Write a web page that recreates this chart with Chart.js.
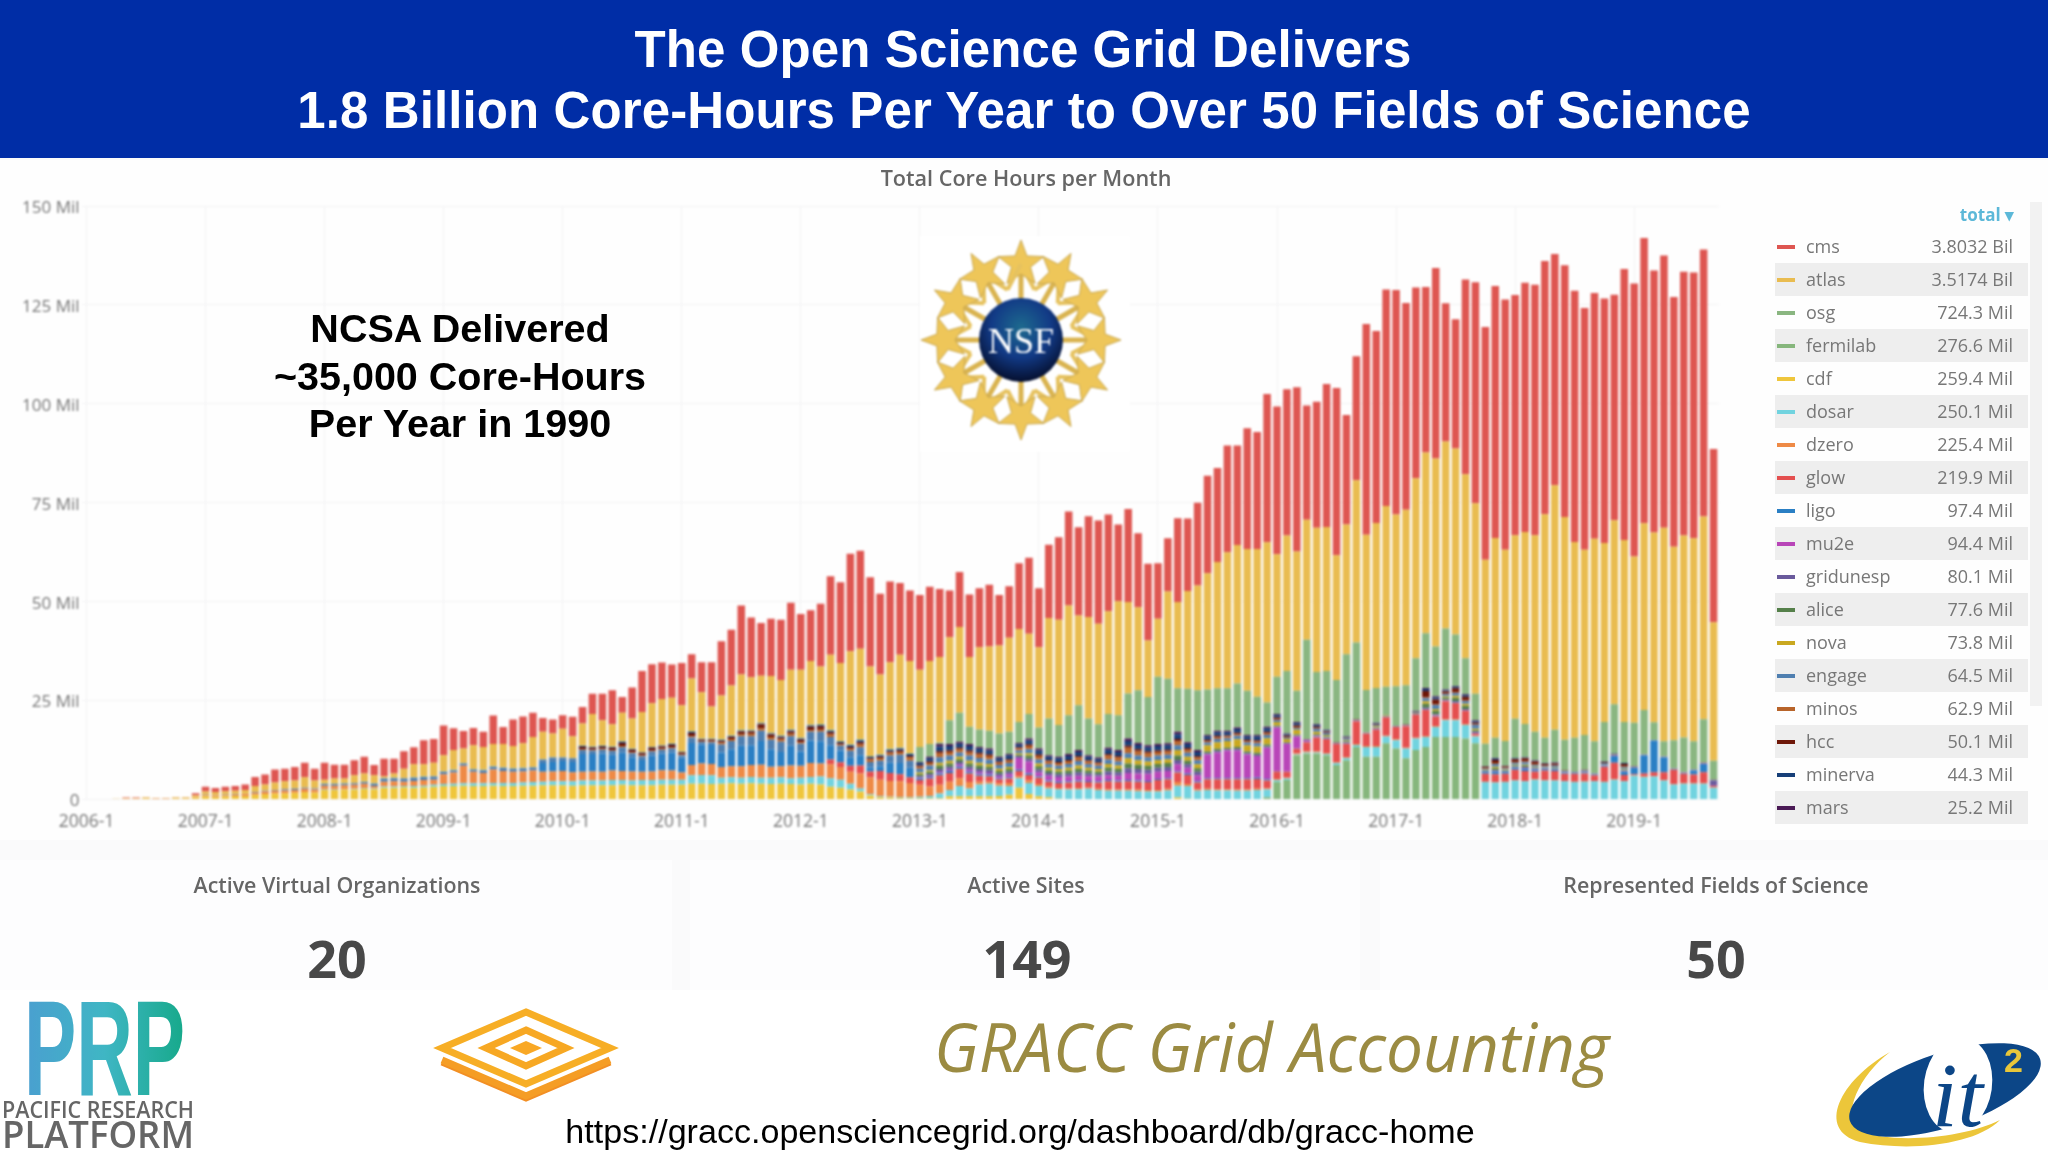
<!DOCTYPE html>
<html>
<head>
<meta charset="utf-8">
<title>The Open Science Grid Delivers</title>
<script src="https://cdn.jsdelivr.net/npm/chart.js@4"></script>
<style>
html, body { margin: 0; padding: 0; background: #fff; }
#page { position: relative; width: 2048px; height: 1152px; overflow: hidden; background: #fff; font-family: "Open Sans", sans-serif; }
.abs { position: absolute; white-space: nowrap; }
.ctr { transform: translate(-50%, -50%); }
#header { position: absolute; left: 0; top: 0; width: 2048px; height: 158px; background: #002da6; }
.head { color: #fff; font: bold 51px "Liberation Sans", Arial, sans-serif; letter-spacing: 0.1px; }
.ncsa { font: bold 39.5px "Liberation Sans", Arial, sans-serif; color: #000; }
#dash { position: absolute; left: 0; top: 158px; width: 2048px; height: 832px; background: #fafafb; filter: blur(0.6px); }
#chartBox { position: absolute; left: 0; top: 160px; width: 1740px; height: 680px; }
.panel { position: absolute; top: 860px; height: 130px; background: #fdfdfe; }
.panelLabel { color: #666; font-weight: 600; font-size: 21.4px; }
.panelValue { color: #484848; font-weight: 700; font-size: 52px; }
.row { position: absolute; left: 1775px; width: 253px; height: 33px; line-height: 33px; font-size: 18px; color: #777; }
.row.alt { background: #eeeeee; }
.swatch { position: absolute; left: 2px; top: 15px; width: 18px; height: 4px; }
.rname { position: absolute; left: 31px; top: 0; }
.rval { position: absolute; right: 15px; top: 0; }
</style>
</head>
<body>
<div id="page">
  <div id="dash">
    <div style="position:absolute;left:0;top:2px;width:2048px;height:680px;background:#fefefe"></div>
  </div>
  <div id="header"></div>
  <div class="abs ctr head" style="left:1023px;top:49px">The Open Science Grid Delivers</div>
  <div class="abs ctr head" style="left:1024px;top:110px">1.8 Billion Core-Hours Per Year to Over 50 Fields of Science</div>

  <div class="panel" style="left:0;width:672px"></div>
  <div class="panel" style="left:690px;width:670px"></div>
  <div class="panel" style="left:1380px;width:668px"></div>

  <div id="chartBox" style="filter:blur(0.8px)"><canvas id="coreHours" width="1740" height="680"></canvas></div>
  <div class="abs ctr" style="left:1026px;top:177px;color:#666;font-weight:600;font-size:21.6px;filter:blur(0.6px)">Total Core Hours per Month</div>

  <div id="legendBox" style="filter:blur(0.6px)"></div>

  <div class="abs ctr ncsa" style="left:460px;top:328px">NCSA Delivered</div>
  <div class="abs ctr ncsa" style="left:460px;top:376px">~35,000 Core-Hours</div>
  <div class="abs ctr ncsa" style="left:460px;top:423px">Per Year in 1990</div>

  <svg id="nsf" class="abs" style="left:920px;top:236px;filter:blur(1px)" width="210" height="216" viewBox="0 0 210 216"></svg>

  <div class="abs ctr panelLabel" style="left:337px;top:884px;filter:blur(0.6px)">Active Virtual Organizations</div>
  <div class="abs ctr panelValue" style="left:337px;top:957px;filter:blur(0.6px)">20</div>
  <div class="abs ctr panelLabel" style="left:1026px;top:884px;filter:blur(0.6px)">Active Sites</div>
  <div class="abs ctr panelValue" style="left:1027px;top:957px;filter:blur(0.6px)">149</div>
  <div class="abs ctr panelLabel" style="left:1716px;top:884px;filter:blur(0.6px)">Represented Fields of Science</div>
  <div class="abs ctr panelValue" style="left:1716px;top:957px;filter:blur(0.6px)">50</div>

  <svg class="abs" style="left:0;top:990px;filter:blur(0.5px)" width="2048" height="162" viewBox="0 990 2048 162">
    <defs>
      <linearGradient id="prpFill" x1="0" x2="1" y1="0" y2="0">
        <stop offset="0" stop-color="#4a9fd0"/><stop offset="0.5" stop-color="#3fb6c4"/><stop offset="1" stop-color="#16a98a"/>
      </linearGradient>
    </defs>
    <text x="24" y="1095" font-family="Liberation Sans" font-weight="bold" font-size="136" textLength="161" lengthAdjust="spacingAndGlyphs" fill="url(#prpFill)">PRP</text>
    <text x="2" y="1118" font-family="Open Sans" font-weight="600" font-size="23" textLength="192" lengthAdjust="spacingAndGlyphs" fill="#666">PACIFIC RESEARCH</text>
    <text x="2" y="1148" font-family="Open Sans" font-weight="600" font-size="38" textLength="192" lengthAdjust="spacingAndGlyphs" fill="#666">PLATFORM</text>

    <g fill="none" stroke-width="7">
      <polyline points="442,1074 526,1110 610,1074" stroke="#f28f24" transform="translate(0,-12)"/>
      <polyline points="442,1062 526,1098 610,1062" stroke="#f59d25" transform="translate(0,-2)"/>
      <polygon points="526,1012 610,1048 526,1084 442,1048" stroke="#f7ae25"/>
      <polygon points="526,1030 566,1048 526,1066 486,1048" stroke="#f7a823"/>
    </g>
    <polygon points="526,1041 542,1048 526,1055 510,1048" fill="#f9a825"/>

    <text x="934" y="1072" font-family="Open Sans" font-style="italic" font-size="68" textLength="675" lengthAdjust="spacingAndGlyphs" fill="#9b8b42">GRACC Grid Accounting</text>

    <text x="1020" y="1143" text-anchor="middle" font-family="Liberation Sans" font-size="34.1" fill="#000">https://gracc.opensciencegrid.org/dashboard/db/gracc-home</text>

    <path d="M1890 1052 C1840 1080 1815 1130 1860 1142 C1910 1152 1975 1145 2000 1120 C1965 1138 1890 1145 1860 1130 C1840 1115 1860 1075 1890 1052 Z" fill="#ecc63a"/>
    <ellipse cx="1945" cy="1090" rx="100" ry="37" transform="rotate(-18 1945 1090)" fill="#0c4687"/>
    <ellipse cx="1958" cy="1085" rx="34" ry="48" transform="rotate(8 1958 1085)" fill="#fff"/>
    <text x="1932" y="1126" font-family="Liberation Serif" font-style="italic" font-size="92" fill="#0c4687">it</text>
    <text x="2004" y="1072" font-family="Liberation Sans" font-weight="bold" font-size="34" fill="#e8c63a">2</text>
  </svg>
</div>

<script>
// stack order is bottom to top, the legend below lists them by total
const stackNames = ['fermilab', 'cdf', 'dosar', 'dzero', 'glow', 'ligo', 'mu2e', 'gridunesp', 'alice', 'nova', 'engage', 'minos', 'hcc', 'minerva', 'mars', 'osg', 'atlas', 'cms'];
const legendNames = ['cms', 'atlas', 'osg', 'fermilab', 'cdf', 'dosar', 'dzero', 'glow', 'ligo', 'mu2e', 'gridunesp', 'alice', 'nova', 'engage', 'minos', 'hcc', 'minerva', 'mars'];
const legendTotals = ['3.8032 Bil', '3.5174 Bil', '724.3 Mil', '276.6 Mil', '259.4 Mil', '250.1 Mil', '225.4 Mil', '219.9 Mil', '97.4 Mil', '94.4 Mil', '80.1 Mil', '77.6 Mil', '73.8 Mil', '64.5 Mil', '62.9 Mil', '50.1 Mil', '44.3 Mil', '25.2 Mil'];
const yTickLabels = ['0', '25 Mil', '50 Mil', '75 Mil', '100 Mil', '125 Mil', '150 Mil'];

// million core hours per month, one line per year from 2006 to 2019-9
const cms = [
  0,0,0,0,.1,.1,.1,.1,.1,.1,.1,.5,
  1.2,1,1.1,1.2,1.4,2.3,2.5,3.3,3.2,3.4,3.7,3,
  4.3,3.5,3.5,3.8,4.2,2.6,4.4,3.7,4.4,4.3,6.1,6,
  7.5,5.5,4.4,4.4,3.8,7.2,4.3,6.7,6.8,6.1,3.5,3.5,
  3.4,4.9,4.2,5.1,6.7,8.6,4,7.8,10.4,9.9,9.2,8.4,
  10.7,6.1,7.6,11.2,13.7,14.1,17.4,15.1,13.3,14.5,15.2,16.9,
  14.1,12.8,15.9,19.8,20.4,24.6,24.8,22.6,20.4,20.4,18.1,17.8,
  18.9,18.8,17.2,11.8,13.9,15.8,14.9,15.6,12.8,13,16.6,19.2,
  14.9,18.5,20.9,23.8,22.3,25.5,26.1,24.4,19.4,23.5,18.7,19.4,
  14,13.4,21.2,18.3,20.9,24.6,23.8,27,25.2,30.5,29.6,37.5,
  37.3,37,41.5,28.9,31.8,36.1,42.3,27.7,31.3,53.3,48.5,54.7,
  56.8,52.3,48.2,41.8,48.1,34.9,32.7,49.2,55.8,58.8,63.7,63.3,
  60.7,63,63.3,64,58.5,63.6,63.5,61.1,62.1,61.8,57,68.5,
  69,72.1,66.2,68.8,63.1,66.7,67.2,67.5,43.8
];
const atlas = [
  0,0,0,.1,.1,.1,.1,0,0,.1,.1,.4,
  .8,.8,.9,.9,1,1.5,1.6,1.9,2,2.1,2.6,2,
  1,1.3,1.2,1.9,2.1,2,.5,1.1,2.4,3.3,3.1,3.4,
  4.1,5,3.7,6,5.8,5.6,5.9,5.6,6.2,7.6,6.9,6,
  7.2,5.5,5.6,8.2,6.4,5.6,7.2,7.7,10.1,11,11.7,11.6,
  11.6,13.3,11.7,8.1,11.1,12.6,14,13.3,11.9,14.3,14,15.1,
  17.2,16.1,14.6,19,19.7,23.6,22.9,22.6,20.2,21.9,23.5,23.3,
  19.5,21,21.6,21,21.7,17.6,20.8,21.3,22.2,23.8,23.5,20.3,
  20.3,25.4,26.6,27.7,22.7,25.6,25.4,26,28.8,23.1,21,14.3,
  14.7,22.1,21.8,24.7,26.5,29.4,31.9,34.4,35,35.8,37.3,40.5,
  31,34.2,35.2,30.3,36.5,36.4,31.5,32.8,41,39.2,41.7,45.7,
  43.4,44.3,45.5,45.7,47.5,47.3,47,46.5,48.2,46.5,50.5,48.3,
  46.4,48.5,49.7,56.5,61.8,56.3,49.5,46.8,51.2,45.2,46.5,46,
  42,47.2,48,54,48.9,51,51.3,51.2,35
];
const osg = [
  0,0,0,0,0,0,0,0,0,0,0,0,
  0,0,0,0,0,0,0,0,0,0,0,0,
  .1,.1,.1,.1,.1,.1,.1,.1,.1,.1,.1,.1,
  .1,.1,.1,.1,.1,.1,.1,.1,.1,.1,.1,.1,
  .1,.1,.1,.1,.1,.1,.1,.1,.1,.1,.1,.1,
  .2,.2,.2,.2,.2,.2,.2,.2,.2,.2,.2,.2,
  .2,.2,.2,.2,.2,.2,.2,.2,.2,.2,.2,.2,
  3.8,3.2,.4,6,7.3,4.4,4.4,4.5,5.9,5.6,5.3,6.2,
  5.3,9.3,8,9.8,11.3,9.3,8.4,8.5,8.8,11.4,13.3,12.2,
  17,16.3,11,13.5,15.1,11.5,10.7,10.7,11.1,11.2,9.7,6.1,
  9.4,15.8,7.9,25.1,13.2,14.9,15.8,20.7,19.5,10.8,8.8,7.2,
  9.9,9.9,13.3,13.8,12.6,15.4,13,9.1,6.7,5.7,5.1,6.3,
  9.9,8.4,7.2,6.4,8.2,7.8,8.5,8.8,8.1,10,12.5,10.4,
  11,11.3,4.5,3.9,7.2,8.9,7.1,11,4.8
];
const fermilab = [
  0,0,0,0,0,0,0,0,0,0,0,0,
  0,0,0,0,0,0,0,0,0,0,0,0,
  0,0,0,0,0,0,0,0,0,0,0,0,
  0,0,0,0,0,0,0,0,0,0,0,0,
  0,0,0,0,0,0,0,0,0,0,0,0,
  0,0,0,0,0,0,0,0,0,0,0,0,
  0,0,0,0,0,0,0,0,0,0,0,0,
  0,0,0,0,0,0,0,0,0,0,0,0,
  0,0,0,0,0,0,0,0,0,0,0,0,
  0,0,0,0,0,0,0,0,0,0,0,.6,
  4.5,4.9,11.2,11.6,11.6,11.2,8.7,9.9,13.3,10.8,10.8,14.2,
  12.9,10.4,12.5,13.3,15.8,15.8,15.8,15.4,14.2,0,0,0,
  0,0,0,0,0,0,0,0,0,0,0,0,
  0,0,0,0,0,0,0,0,0
];
const cdf = [
  0,0,0,.1,.2,.2,.3,.2,.2,.3,.3,.5,
  .8,.7,.8,.9,.9,1.2,1.4,1.5,1.6,1.7,1.9,1.8,
  2.4,2.4,2.5,2.5,2.7,2.6,3,3,3.1,3,3.1,3.2,
  3.4,3.4,3.5,3.4,3.4,3.5,3.4,3.4,3.5,3.5,3.6,3.6,
  3.6,3.5,3.6,3.6,3.6,3.6,3.7,3.6,3.6,3.6,3.7,3.7,
  3.7,4,4,3.9,4,4.1,4,4.1,4,3.9,4,3.9,
  3.8,4,3.8,3.2,3,2.5,2,1,.6,.5,.4,.3,
  .3,.3,.3,.8,.8,.8,.8,.8,.9,1.2,3,1.4,
  .8,.6,.2,.1,.1,.1,0,0,0,0,0,0,
  0,0,.5,.2,0,0,0,0,0,0,0,0,
  0,0,0,0,0,0,0,0,0,0,0,0,
  0,0,0,0,0,0,0,0,0,0,0,0,
  0,0,0,0,0,0,0,0,0,0,0,0,
  0,0,0,0,0,0,0,0,0
];
const dosar = [
  0,0,0,0,0,0,0,0,0,0,0,0,
  0,0,0,0,0,0,0,0,0,0,0,0,
  .1,.1,.1,.2,.2,.2,.3,.3,.3,.4,.4,.5,
  .5,.6,.6,.7,.7,.7,.8,.8,.8,.9,.9,1,
  1,1.1,1.2,1.2,1.2,1.3,1.2,1.2,1.3,1.3,1.3,1.3,
  1.3,2.1,2.2,2.2,1.5,1.5,1.5,1.6,1.5,1.6,1.6,1.5,
  1.7,1.7,2,2.2,2,1.5,.8,.3,.2,.2,.2,.3,
  .4,.6,1.2,1.6,2.6,2,3,3.2,2.6,2.2,2.4,2.8,
  2.6,2.2,2.4,2.4,2.5,2.6,2.4,2.2,2.2,2.2,2.1,2,
  2,2.3,3,3.2,2.2,2.4,2.3,2.3,2.2,2.2,2.4,1.9,
  .4,.4,.2,.3,.3,.3,.5,.6,.5,2.5,2.5,1.7,
  2.1,2.5,2.9,2.5,2.5,4.2,4.2,3.4,1.7,4.4,4.3,4.4,
  4.8,4.6,5,4.8,4.8,4.6,4.4,4.5,4.6,4.4,5,4.6,
  6,5.7,5.8,4.8,3.8,4,4,4,3
];
const dzero = [
  0,0,0,0,.1,.1,.1,.1,.1,.1,.1,.2,
  .3,.3,.3,.3,.4,.5,.6,.7,.7,.7,.8,.7,
  1,1,1,1,1.1,.6,1.2,1.3,1.1,1.3,1.4,1.3,
  2.5,2.8,4.4,2.9,2.6,3.4,3,2.8,2.8,2.9,2.5,2.5,
  2.6,2.3,2.2,2.3,2.2,2.4,2.3,2.3,2.1,2.2,2.4,2.3,
  1.8,2.6,2.9,2.9,2.7,2.8,2.9,3,3.3,2.8,2.8,3.2,
  3,3.5,3.3,3.5,3.2,3,3.8,4.3,4.2,4,4,3.6,
  3,2.4,2.2,2.1,2,1.6,.7,.5,.6,.8,.5,.6,
  .5,.4,.3,.3,.3,.3,.3,.4,.3,.4,.4,.4,
  .4,.4,.9,.5,.3,.3,.3,.3,.3,.3,.3,.3,
  .2,.2,.2,.2,.2,.2,.2,.2,.2,.2,.2,.2,
  .2,.2,.2,.2,.2,.2,.2,.2,.2,.1,.1,.1,
  .1,.1,.1,.1,.1,.1,.1,.1,.1,.1,.1,.1,
  .1,.1,.1,.1,.1,.1,.1,.1,.1
];
const glow = [
  0,0,0,0,0,0,0,0,0,0,0,0,
  0,0,0,0,0,0,0,0,0,0,0,0,
  0,0,0,0,0,0,0,0,0,0,0,0,
  0,0,0,0,0,0,0,0,0,0,0,0,
  0,0,0,0,0,0,0,0,0,0,0,0,
  0,0,0,0,0,0,0,0,0,0,0,0,
  0,0,0,1.2,1.2,1.5,2,1.5,2.2,2,1.8,1.4,
  1.2,2,2.4,2.2,2.4,2.2,1.5,1.4,1,1.1,1.3,1.4,
  1.6,1.3,1.3,1.5,1.6,1.4,1.6,2,2,2,2,2,
  2.5,2.4,2.4,2.3,1.8,2.4,2.5,2.5,2.6,2.6,2.5,2,
  2,1.5,1.2,2.4,3.6,3.6,4.6,3.4,5.8,3.2,4.2,4.7,
  3.2,5.4,5.9,6.7,2.5,4.6,4.2,3.4,.5,2,2,2,
  2.6,2.5,2,2.4,2.3,1.8,2,2,1.4,3.8,4.2,1.5,
  .3,.8,1,2,3.6,2.4,2.2,2.8,.3
];
const ligo = [
  0,0,0,0,0,0,0,0,0,0,0,0,
  0,0,0,0,0,0,0,0,0,0,0,0,
  0,0,0,0,0,0,0,0,0,0,0,0,
  0,0,0,0,0,0,0,0,0,0,2.2,2.4,
  2.5,2.6,4.5,4.4,4.6,4,4.6,3.6,3,4,4.2,4.6,
  3.8,5.6,4.8,4.8,3.7,4.3,5.2,5,6,4.4,3.6,5,
  3.6,5.7,5.6,3.6,3,2.2,2.6,1,1.2,2.6,2.8,2.4,
  .4,.4,.5,.5,.5,.4,.4,.4,.3,.3,.3,.4,
  .3,.3,.3,.3,.3,.3,.3,.3,.3,.3,.3,.3,
  .3,.3,.3,.3,.3,.3,.3,.3,.3,.3,.3,.3,
  .1,.1,.1,.1,.1,.1,.1,.1,.1,.1,.1,.1,
  .1,.1,.1,.1,.1,.1,.1,.1,.1,.5,.6,.5,
  .5,.6,.5,.4,.4,.3,.3,.3,.3,.3,1.7,.8,
  1.6,4.6,8,3.8,.2,.2,1,2.1,0
];
const mu2e = [
  0,0,0,0,0,0,0,0,0,0,0,0,
  0,0,0,0,0,0,0,0,0,0,0,0,
  0,0,0,0,0,0,0,0,0,0,0,0,
  0,0,0,0,0,0,0,0,0,0,0,0,
  0,0,0,0,0,0,0,0,0,0,0,0,
  0,0,0,0,0,0,0,0,0,0,0,0,
  0,0,0,0,0,0,0,0,0,0,0,0,
  .2,.2,.3,.3,.5,.5,.5,.4,.5,.8,3,3,
  1,1.2,1.2,1.2,1.2,1.2,1.2,1.2,1.2,1.8,1.8,1.8,
  1.8,1.8,1.8,1.5,1.5,6,6.5,7,7,6,5.5,8,
  11,7,3,.5,.1,.1,.1,.1,.1,.1,.1,.1,
  .1,.1,.1,.1,.1,.1,.1,.1,.1,.1,.1,.1,
  .1,.1,.1,.1,.1,.1,.1,.1,.1,.1,.1,.1,
  .1,.1,.1,.1,.1,.1,.1,.1,.1
];
const gridunesp = [
  0,0,0,0,0,0,0,0,0,0,0,0,
  0,0,0,0,0,0,0,0,0,0,0,0,
  0,0,0,0,0,0,0,0,0,0,0,0,
  0,0,0,0,0,0,0,0,0,0,0,0,
  0,0,0,0,0,0,0,0,0,0,0,0,
  0,0,0,0,0,0,0,0,0,0,0,0,
  0,0,0,0,0,0,0,0,0,0,0,0,
  .4,.5,.8,.8,.7,.8,.8,.8,.6,.6,.4,.7,
  .8,.7,.7,.7,.9,.7,.6,1,.9,1.2,1.1,1,
  1,1,1.1,.9,.9,.3,.4,.3,.4,.3,.3,.3,
  .2,.2,.2,0,.3,.2,0,.2,0,0,.2,0,
  0,0,0,.3,.3,.2,.3,.3,.3,.1,.3,.1,
  .2,.3,.2,.1,.1,.1,0,.1,0,.1,.1,.2,
  .1,0,0,0,0,0,0,0,1.3
];
const alice = [
  0,0,0,0,0,0,0,0,0,0,0,0,
  0,0,0,0,0,0,0,0,0,0,0,0,
  0,0,0,0,0,0,0,0,0,0,0,0,
  0,0,0,0,0,0,0,0,0,0,0,0,
  0,0,0,0,0,0,0,0,0,0,0,0,
  0,0,0,0,0,0,0,0,0,0,0,0,
  0,0,0,0,0,0,0,0,0,0,0,0,
  .5,.6,.9,.8,.7,.8,.9,.8,.7,.7,.4,.8,
  .8,.7,.7,.8,.9,.7,.7,1,.9,1.2,1.1,1,
  1,1,1.1,.9,.9,.4,.5,.4,.5,.4,.5,.5,
  .3,.2,.3,.1,.3,.2,.1,.2,.1,0,.1,.1,
  .1,.2,.2,1,.9,.6,.8,.8,.4,.2,.5,.2,
  .3,.3,.2,.1,.2,.1,.1,.1,.1,.1,.1,.3,
  0,0,0,0,0,0,0,0,0
];
const nova = [
  0,0,0,0,0,0,0,0,0,0,0,0,
  0,0,0,0,0,0,0,0,0,0,0,0,
  0,0,0,0,0,0,0,0,0,0,0,0,
  0,0,0,0,0,0,0,0,0,0,0,0,
  0,0,0,0,0,0,0,0,0,0,0,0,
  0,0,0,0,0,0,0,0,0,0,0,0,
  0,0,0,0,0,0,0,0,0,0,0,0,
  .4,.4,.7,.7,.6,.7,.7,.7,.6,.5,.4,.6,
  .7,.6,.6,.7,.8,.7,.6,.9,.8,1.3,1.1,1.1,
  1,1,1.4,1,1,1.6,1.7,1.7,1.9,1.6,1.6,1.6,
  .9,.8,1.2,0,.6,.4,0,.3,0,0,.3,.1,
  0,0,0,.6,.5,.3,.5,.5,.4,.1,.4,.2,
  .2,.3,.2,.1,.1,0,0,0,0,.1,0,.2,
  0,0,0,0,0,0,0,0,0
];
const engage = [
  0,0,0,0,0,0,0,0,0,0,0,0,
  .1,.1,.1,.1,.1,.2,.2,.2,.3,.3,.3,.3,
  .4,.4,.4,.4,.4,.6,.8,.8,.8,.8,.8,.8,
  .6,.6,.6,.6,.7,.7,.8,.8,.8,.8,.9,1.1,
  .9,.9,1,.9,1,1,1.4,1,.9,1,1,1,
  .6,1.4,.7,.7,2,2.1,2.4,2.3,2.6,2.4,2.6,2.4,
  2,2.2,2.4,2.1,1.2,1.6,2,1.4,1.4,1.8,2.1,1.8,
  1,1.2,1.4,1.3,1.1,1.3,1.2,1.1,.9,1,.7,1,
  1,.9,.8,1,1.1,.9,.8,1.1,1,1.3,1.2,1.1,
  1.1,1.1,1.2,1,1,.7,.8,.7,.9,.7,.8,.8,
  .5,.3,.5,0,.8,.5,0,.4,0,0,.3,0,
  0,0,.1,.8,1,.5,.7,.7,1,.3,.7,.3,
  .5,.6,.4,.3,.4,.1,0,.1,0,.2,.1,.4,
  .1,0,0,0,0,0,.1,.1,.1
];
const minos = [
  0,0,0,0,0,0,0,0,0,0,0,0,
  0,0,0,0,0,0,0,0,0,0,0,0,
  0,0,0,0,0,0,0,0,0,0,0,0,
  0,0,0,0,0,0,0,0,0,0,0,0,
  0,0,.2,.2,.2,.2,.3,.2,.2,.2,.2,.2,
  .2,.3,.2,.2,.5,.5,.5,.6,.6,.7,.6,.6,
  .4,.4,.5,.6,.3,.5,.7,.6,.7,.7,.7,.9,
  .5,.6,1,.9,.8,.8,.9,.9,.6,.6,.5,.8,
  .9,.7,.7,.7,.9,.7,.6,1,1,1.4,1.1,1,
  .9,.9,1,.8,.7,.4,.4,.4,.4,.4,.4,.4,
  .2,.2,.2,0,.2,.1,0,.1,0,0,.1,0,
  0,0,0,.2,.2,.1,.2,.2,.2,.1,.2,.1,
  .2,.2,.2,.1,.1,0,0,0,0,0,0,.2,
  0,0,0,0,0,0,0,0,0
];
const hcc = [
  0,0,0,0,0,0,0,0,0,0,0,0,
  0,0,0,0,0,0,0,0,0,0,0,0,
  0,0,0,0,0,0,0,0,0,0,0,0,
  0,0,0,0,0,0,0,0,0,0,0,0,
  0,0,.6,.5,.5,.6,.8,.6,.6,.7,.6,.7,
  .5,.8,.3,.4,.4,.5,.7,.6,1,.6,.5,.6,
  .6,.9,.9,.6,.4,.5,.6,.3,.3,.3,.4,.3,
  .3,.4,.5,.4,.4,.5,.4,.4,.3,.4,.3,.4,
  .4,.3,.3,.3,.4,.3,.3,.4,.4,.5,.5,.4,
  .4,.4,.6,.4,.4,.3,.4,.3,.4,.3,.4,.4,
  .4,.3,.4,.1,.3,.3,.1,.2,.1,0,.2,.1,
  0,.1,.2,1.6,1.2,.6,1,.9,.3,.4,.8,.4,
  .7,.8,.7,.5,.5,.1,.1,.2,0,.3,.1,.6,
  .1,0,0,0,0,0,.1,.1,.1
];
const minerva = [
  0,0,0,0,0,0,0,0,0,0,0,0,
  0,0,0,0,0,0,0,0,0,0,0,0,
  0,0,0,0,0,0,0,0,0,0,0,0,
  0,0,0,0,0,0,0,0,0,0,0,0,
  0,0,.2,.2,.2,.2,.3,.2,.2,.2,.2,.2,
  .1,.3,.1,.1,.2,.2,.2,.2,.2,.3,.3,.3,
  .3,.3,.3,.4,.3,.4,.5,.4,.4,.5,.5,.5,
  .7,.8,1.2,1.1,1,1.1,1,1,.8,.9,.7,1,
  1,.9,.9,1,1,.9,.8,1.1,1,1.2,1.1,1.1,
  1.1,1.1,1.2,1,1,.8,.9,.8,.9,.8,.9,.9,
  .6,.4,.6,0,.4,.3,0,.2,0,0,.2,0,
  0,0,.1,.5,.5,.3,.4,.4,.4,.1,.3,.1,
  .2,.2,.2,.1,.2,0,0,0,0,.1,.1,.2,
  0,0,0,0,0,0,0,0,0
];
const mars = [
  0,0,0,0,0,0,0,0,0,0,0,0,
  0,0,0,0,0,0,0,0,0,0,0,0,
  0,0,0,0,0,0,0,0,0,0,0,0,
  0,0,0,0,0,0,0,0,0,0,0,0,
  0,0,0,0,0,0,0,0,0,0,0,0,
  0,0,0,0,0,0,0,0,0,0,0,0,
  0,0,0,0,0,0,0,0,0,0,0,0,
  .2,.4,.6,.5,.5,.5,.5,.5,.4,.4,.4,.5,
  .5,.4,.4,.5,.5,.4,.4,.5,.5,.6,.5,.5,
  .5,.5,.6,.5,.5,.4,.4,.4,.4,.4,.4,.4,
  .3,.2,.3,0,.2,.1,0,.1,0,0,.1,0,
  0,0,.1,.3,.3,.2,.2,.2,.2,0,.2,0,
  .1,.1,.1,.1,.1,0,0,0,0,0,0,0,
  0,0,0,0,0,0,0,0,0
];

const seriesValues = { fermilab, cdf, dosar, dzero, glow, ligo, mu2e, gridunesp, alice, nova, engage, minos, hcc, minerva, mars, osg, atlas, cms };
const seriesColors = {
  cms: '#de5651', atlas: '#e9bc50', osg: '#8ab681', fermilab: '#86b67c', cdf: '#efc63c', dosar: '#71d3df',
  dzero: '#ee8a46', glow: '#e44f4f', ligo: '#2a7fc4', mu2e: '#b845b8', gridunesp: '#6a5a9c', alice: '#55804a',
  nova: '#c9a820', engage: '#4f7fb0', minos: '#b8642a', hcc: '#6e1708', minerva: '#173f78', mars: '#4a1a55'
};

const categories = [];
for (let year = 2006; year <= 2019; year++) {
    for (let month = 1; month <= 12; month++) {
        if (year === 2019 && month > 9) break;
        categories.push(year + '-' + month);
    }
}

function buildLegend() {
    const box = document.getElementById('legendBox');
    let html = '<div class="abs" style="left:2030px;top:202px;width:12px;height:504px;background:#f2f2f2"></div>';
    html += '<div class="abs" style="right:34px;top:203px;font-size:17px;font-weight:700;color:#5cb8d8">total ▾</div>';
    legendNames.forEach((name, index) => {
        const top = 230 + index * 33;
        html += `<div class="row ${index % 2 ? 'alt' : ''}" style="top:${top}px">
            <span class="swatch" style="background:${seriesColors[name]}"></span>
            <span class="rname">${name}</span>
            <span class="rval">${legendTotals[index]}</span>
        </div>`;
    });
    box.innerHTML = html;
}

function buildNsf() {
    const cx = 101, cy = 104;
    let inner = '<rect width="210" height="216" fill="#ffffff"/>';
    for (let k = 0; k < 12; k++) {
        const a = k * Math.PI / 6;
        const sx = cx + 76 * Math.sin(a), sy = cy - 76 * Math.cos(a);
        const next = (k + 1) * Math.PI / 6;
        const mx = cx + 52 * Math.sin((a + next) / 2), my = cy - 52 * Math.cos((a + next) / 2);
        const ex = cx + 76 * Math.sin(next), ey = cy - 76 * Math.cos(next);
        inner += `<line x1="${cx}" y1="${cy}" x2="${sx}" y2="${sy}" stroke="#d9b34f" stroke-width="5"/>`;
        inner += `<line x1="${sx}" y1="${sy}" x2="${mx}" y2="${my}" stroke="#e6c25f" stroke-width="4"/>`;
        inner += `<line x1="${ex}" y1="${ey}" x2="${mx}" y2="${my}" stroke="#e6c25f" stroke-width="4"/>`;
        let pts = [];
        for (let p = 0; p < 10; p++) {
            const r = p % 2 ? 10 : 24;
            const t = a + p * Math.PI / 5;
            pts.push((sx + r * Math.sin(t)).toFixed(1) + ',' + (sy - r * Math.cos(t)).toFixed(1));
        }
        inner += `<polygon points="${pts.join(' ')}" fill="#eec659" stroke="#c9a850" stroke-width="1"/>`;
    }
    inner += '<defs><radialGradient id="globe" cx="0.5" cy="0.35" r="0.65"><stop offset="0" stop-color="#1d6a8e"/><stop offset="0.55" stop-color="#123a86"/><stop offset="1" stop-color="#050f2e"/></radialGradient></defs>';
    inner += `<circle cx="${cx}" cy="${cy}" r="42" fill="url(#globe)"/>`;
    inner += `<text x="${cx}" y="${cy + 13}" text-anchor="middle" font-family="Liberation Serif" font-size="36" fill="#fff">NSF</text>`;
    document.getElementById('nsf').innerHTML = inner;
}

function drawChart() {
    const datasets = stackNames.map(name => ({
        label: name,
        data: seriesValues[name],
        backgroundColor: seriesColors[name],
        borderWidth: 0,
        barPercentage: 0.76,
        categoryPercentage: 1
    }));

    new Chart(document.getElementById('coreHours'), {
        type: 'bar',
        data: { labels: categories, datasets: datasets },
        options: {
            responsive: false,
            animation: false,
            layout: { padding: { top: 46, right: 21.5, left: 0, bottom: 0 } },
            plugins: { legend: { display: false }, tooltip: { enabled: false } },
            scales: {
                x: {
                    stacked: true,
                    afterFit: scale => { scale.height = 40.5; },
                    border: { display: false },
                    grid: {
                        offset: false,
                        drawTicks: false,
                        color: ctx => (ctx.index % 12 === 0 ? '#f3f3f4' : 'rgba(0,0,0,0)')
                    },
                    ticks: {
                        autoSkip: false,
                        maxRotation: 0,
                        padding: 12,
                        color: '#777',
                        font: { family: 'Open Sans', size: 17.5 },
                        callback: function(value, index) {
                            return index % 12 === 0 ? this.getLabelForValue(value) : '';
                        }
                    }
                },
                y: {
                    stacked: true,
                    min: 0,
                    max: 150,
                    afterFit: scale => { scale.width = 81.5; },
                    border: { display: false },
                    grid: { drawTicks: false, color: '#f3f3f4' },
                    ticks: {
                        stepSize: 25,
                        padding: 2,
                        labelOffset: 2,
                        color: '#777',
                        font: { family: 'Open Sans', size: 17 },
                        callback: (value, index) => yTickLabels[index]
                    }
                }
            }
        }
    });
}

buildLegend();
buildNsf();
drawChart();
</script>
</body>
</html>
